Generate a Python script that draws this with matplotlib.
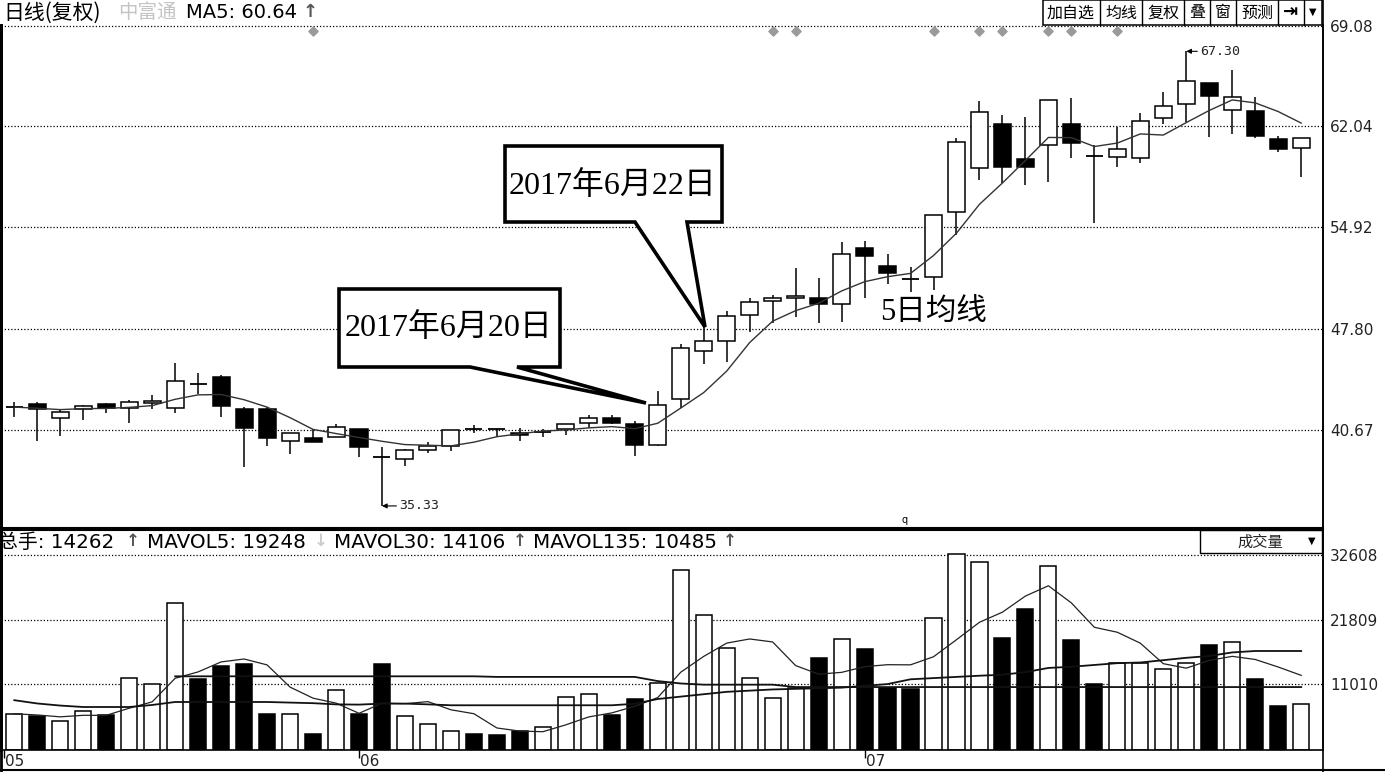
import numpy as np
import pandas as pd
import matplotlib.pyplot as plt
from matplotlib.patches import Rectangle, Polygon
from matplotlib.transforms import blended_transform_factory

plt.rcParams['font.family'] = ['Noto Sans CJK SC', 'DejaVu Sans']

# daily candles, 2017-05 .. 2017-07
opens = [42.26, 42.50, 41.49, 42.17, 42.50, 42.19, 42.55, 42.19, 43.97, 44.42,
         42.12, 42.12, 39.90, 40.09, 40.20, 40.72, 38.82, 38.65, 39.28, 39.54,
         40.79, 40.73, 40.48, 40.49, 40.72, 41.18, 41.51, 41.09, 39.61, 42.83,
         46.22, 46.93, 48.76, 49.76, 49.93, 49.93, 49.51, 53.45, 52.22, 51.31,
         51.41, 56.02, 59.07, 62.17, 59.71, 60.71, 62.17, 59.96, 59.89, 59.82,
         62.63, 63.59, 65.05, 63.17, 63.10, 61.11, 60.48]
highs = [42.66, 42.66, 42.12, 42.43, 42.59, 42.78, 43.13, 45.36, 44.66, 44.54,
         42.31, 42.27, 40.48, 40.72, 41.07, 40.74, 39.49, 39.30, 39.85, 40.67,
         41.00, 40.73, 40.79, 40.76, 41.09, 41.72, 41.72, 41.32, 43.43, 46.70,
         47.93, 49.06, 49.93, 50.16, 52.04, 51.34, 53.91, 53.96, 53.03, 52.11,
         55.79, 61.18, 63.81, 62.82, 62.66, 63.88, 64.00, 60.71, 62.00, 62.94,
         64.46, 67.30, 65.05, 65.99, 64.11, 61.35, 61.18]
lows = [41.56, 39.90, 40.27, 41.37, 41.89, 41.18, 42.12, 41.89, 43.20, 41.56,
        38.09, 39.57, 38.98, 39.80, 40.15, 38.79, 35.33, 38.16, 39.03, 39.21,
        40.44, 40.20, 39.92, 40.17, 40.32, 40.79, 41.10, 38.84, 39.55, 42.20,
        45.29, 45.47, 47.58, 48.17, 48.64, 48.17, 48.24, 49.93, 50.94, 50.35,
        50.51, 54.38, 58.25, 58.02, 57.90, 58.13, 59.82, 55.21, 59.19, 59.42,
        62.19, 62.35, 61.25, 61.49, 61.18, 60.24, 58.48]
closes = [42.28, 42.12, 41.91, 42.38, 42.24, 42.66, 42.73, 44.14, 43.93, 42.36,
          40.83, 40.13, 40.44, 39.80, 40.90, 39.45, 38.79, 39.28, 39.57, 40.67,
          40.76, 40.71, 40.32, 40.51, 41.07, 41.49, 41.14, 39.61, 42.41, 46.41,
          46.93, 48.69, 49.65, 49.93, 50.11, 49.51, 53.03, 52.91, 51.69, 51.27,
          55.79, 60.90, 63.05, 59.19, 59.19, 63.88, 60.83, 59.93, 60.41, 62.40,
          63.48, 65.23, 64.18, 64.11, 61.37, 60.43, 61.18]
volumes = [6025, 5627, 4888, 6537, 5741, 11993, 10970, 24612, 11880, 14096,
           14437, 6025, 6025, 2615, 9947, 5911, 14437, 5684, 4320, 3126,
           2615, 2501, 3069, 3808, 8867, 9265, 5855, 8583, 11141, 30068,
           22509, 16995, 12050, 8640, 10288, 15347, 18473, 16825, 10288, 10174,
           22111, 32740, 31433, 18757, 23645, 30750, 18359, 11027, 14608, 14494,
           13585, 14608, 17507, 18018, 11880, 7276, 7617]
mavol30 = [8300, 7750, 7400, 7160, 7160, 7160, 7500, 8000, 8000, 8000,
           8000, 8000, 7900, 7800, 7600, 7560, 7730, 7730, 7600, 7450,
           7450, 7450, 7450, 7450, 7450, 7450, 7450, 7700, 8500, 8900,
           9300, 9700, 9900, 10100, 10200, 10300, 10400, 10700, 11000, 11800,
           12000, 12200, 12400, 12560, 13000, 13700, 13900, 14200, 14500, 14610,
           15000, 15400, 15700, 16300, 16540, 16540, 16540]
mavol135 = [np.nan] * 7 + [12300] * 14 + [12200] * 7 + [11500, 11100] + [10900] * 4 + [10500] * 23

month_pos = [-0.45, 15, 37]
month_labels = ['05', '06', '07']
price_ticks = [69.08, 62.04, 54.92, 47.80, 40.67]
vol_ticks = [32608, 21809, 11010]
marker_days = [13, 33, 34, 40, 42, 43, 45, 46, 48]

W, H = 1385, 772
fig = plt.figure(figsize=(W / 100, H / 100), dpi=100)


def fx(px):
    return px / W


def fy(py):
    return 1 - py / H


ax = fig.add_axes([fx(1), fy(528), fx(1322), (528 - 25) / H])
axv = fig.add_axes([fx(1), fy(750), fx(1322), 220 / H])
ov = fig.add_axes([0, 0, 1, 1], zorder=5)
ov.set_xlim(0, W)
ov.set_ylim(H, 0)
ov.axis('off')

x = np.arange(len(closes))
o, h, l, c = map(np.array, (opens, highs, lows, closes))
up = c >= o
bw = 0.74

# price panel
ax.vlines(x, l, h, color='black', lw=1.1, zorder=2)
for i in x:
    lo, hi = min(o[i], c[i]), max(o[i], c[i])
    if hi - lo < 0.08:
        ax.hlines(c[i], i - bw / 2, i + bw / 2, color='black', lw=1.3, zorder=3)
    else:
        ax.add_patch(Rectangle((i - bw / 2, lo), bw, hi - lo,
                               facecolor='white' if up[i] else 'black',
                               edgecolor='black', lw=1.1, zorder=3))

ma5 = pd.Series(closes).rolling(5, min_periods=1).mean()
ax.plot(x, ma5, color='#333333', lw=1.0, zorder=4)

for t in price_ticks:
    ax.axhline(t, color='black', lw=0.9, ls=(0, (1, 1.6)), zorder=1)

trans = blended_transform_factory(ax.transData, ax.transAxes)
ax.scatter(marker_days, [0.988] * len(marker_days), marker='D', s=22,
           color='#9a9a9a', transform=trans, zorder=5, clip_on=False)

ax.set_xlim((1 - 14.3) / 22.98, (1323 - 14.3) / 22.98)
ax.set_ylim(33.778, 69.150)
ax.set_xticks([])
ax.set_yticks(price_ticks)
ax.set_yticklabels([f'{t:.2f}' for t in price_ticks], family='DejaVu Sans')
ax.yaxis.tick_right()
ax.tick_params(axis='y', length=0, pad=5, labelsize=11, labelcolor='#222222')
ax.spines['top'].set_visible(False)
ax.spines['left'].set_linewidth(2)
ax.spines['right'].set_linewidth(1.2)
ax.spines['bottom'].set_linewidth(1.5)

ax.annotate('35.33', xy=(16, lows[16]), xytext=(16.75, lows[16]),
            va='center', ha='left', fontsize=9.5, family='DejaVu Sans Mono',
            color='#222222',
            arrowprops=dict(arrowstyle='-|>', color='black', lw=0.8,
                            shrinkA=0, shrinkB=0, mutation_scale=7))
ax.annotate('67.30', xy=(51, highs[51]), xytext=(51.6, highs[51]),
            va='center', ha='left', fontsize=9.5, family='DejaVu Sans Mono',
            color='#222222',
            arrowprops=dict(arrowstyle='-|>', color='black', lw=0.8,
                            shrinkA=0, shrinkB=0, mutation_scale=7))

# volume panel
axv.bar(x, volumes, width=0.7, color=['white' if u else 'black' for u in up],
        edgecolor='black', lw=1.1, zorder=2)
mavol5 = pd.Series(volumes).rolling(5, min_periods=1).mean()
axv.plot(x, mavol5, color='#222222', lw=0.9, zorder=3)
axv.plot(x, mavol30, color='#111111', lw=1.3, zorder=3)
axv.plot(x, mavol135, color='#111111', lw=1.3, zorder=3)
for t in vol_ticks:
    axv.axhline(t, color='black', lw=0.9, ls=(0, (1, 1.6)), zorder=1)

axv.set_xlim((1 - 14.3) / 22.98, (1323 - 14.3) / 22.98)
axv.set_ylim(-40, 36800)
axv.set_yticks(vol_ticks)
axv.set_yticklabels([str(t) for t in vol_ticks], family='DejaVu Sans')
axv.yaxis.tick_right()
axv.tick_params(axis='y', length=0, pad=5, labelsize=11, labelcolor='#222222')
axv.set_xticks(month_pos)
axv.set_xticklabels([])
axv.tick_params(axis='x', direction='out', length=6, width=1)
tv = blended_transform_factory(axv.transData, axv.transAxes)
for p, lab in zip(month_pos, month_labels):
    axv.text(p + 0.05, -0.05, lab, transform=tv, ha='left', va='center',
             fontsize=11, family='DejaVu Sans', color='#222222')
for s in ('left', 'top'):
    axv.spines[s].set_linewidth(2 if s == 'left' else 1.5)
axv.spines['right'].set_linewidth(1.2)
axv.spines['bottom'].set_linewidth(1.2)

# frame bits
ov.plot([1323, 1323], [0, H], color='black', lw=1.2)
ov.plot([0, W], [770, 770], color='black', lw=1.5)
ov.plot([1, 1], [25, H], color='black', lw=2)

# header
ov.text(3, 13, '日线(复权)', fontsize=15, va='center', ha='left', color='black')
ov.text(118, 13, '中富通', fontsize=14, va='center', ha='left', color='#c4c4c4')
ov.text(186, 13, 'MA5: 60.64', fontsize=14, va='center', ha='left',
        family='DejaVu Sans', color='black')
ov.text(303, 12, '↑', fontsize=13, va='center', ha='left', color='#555555',
        family='DejaVu Sans', fontweight='bold')

ov.add_patch(Rectangle((1043, 0), 279, 25, fill=False, ec='black', lw=1.1))
for d in [1100, 1142, 1184, 1210, 1236, 1278, 1304]:
    ov.plot([d, d], [0, 25], color='black', lw=1)
buttons = [('加自选', 1071), ('均线', 1121), ('复权', 1163), ('叠', 1197),
           ('窗', 1223), ('预测', 1257)]
for lab, cx in buttons:
    ov.text(cx, 13, lab, fontsize=11.5, ha='center', va='center', color='black')
ov.text(1291, 12, '⇥', fontsize=13, ha='center', va='center',
        family='DejaVu Sans', fontweight='bold')
ov.text(1313, 12, '▼', fontsize=7, ha='center', va='center', family='DejaVu Sans')

vol_head = [('总手: 14262', -2), ('MAVOL5: 19248', 147), ('MAVOL30: 14106', 334),
            ('MAVOL135: 10485', 533)]
for lab, hx in vol_head:
    ov.text(hx, 543, lab, fontsize=14.3, ha='left', va='center',
            family=['DejaVu Sans', 'Noto Sans CJK SC'])
for hx, arrow, col in [(126, '↑', '#555555'), (314, '↓', '#cccccc'),
                       (513, '↑', '#555555'), (723, '↑', '#555555')]:
    ov.text(hx, 541, arrow, fontsize=12, ha='left', va='center', color=col,
            family='DejaVu Sans', fontweight='bold')

ov.add_patch(Rectangle((1200, 530), 122, 23, fill=False, ec='black', lw=1))
ov.text(1260, 542, '成交量', fontsize=11, ha='center', va='center', color='#222222')
ov.text(1312, 541, '▼', fontsize=7, ha='center', va='center', family='DejaVu Sans')
ov.text(905, 520, 'q', fontsize=7, ha='center', va='center', family='DejaVu Sans')

# callouts
serif = ['Liberation Serif', 'Noto Sans CJK SC']
call22 = [(505, 146), (722, 146), (722, 222), (687, 222), (705, 327),
          (635, 222), (505, 222)]
ov.add_patch(Polygon(call22, closed=True, facecolor='white', edgecolor='black',
                     lw=2.6, joinstyle='miter'))
ov.text(613, 186, '2017年6月22日', fontsize=23, ha='center', va='center',
        family=serif)
call20 = [(339, 289), (560, 289), (560, 367), (517, 367), (646, 403),
          (470, 367), (339, 367)]
ov.add_patch(Polygon(call20, closed=True, facecolor='white', edgecolor='black',
                     lw=2.6, joinstyle='miter'))
ov.text(449, 328, '2017年6月20日', fontsize=23, ha='center', va='center',
        family=serif)
ov.text(880, 312, '5日均线', fontsize=22, ha='left', va='center', family=serif)

fig.savefig('out.png', dpi=100, facecolor='white')
